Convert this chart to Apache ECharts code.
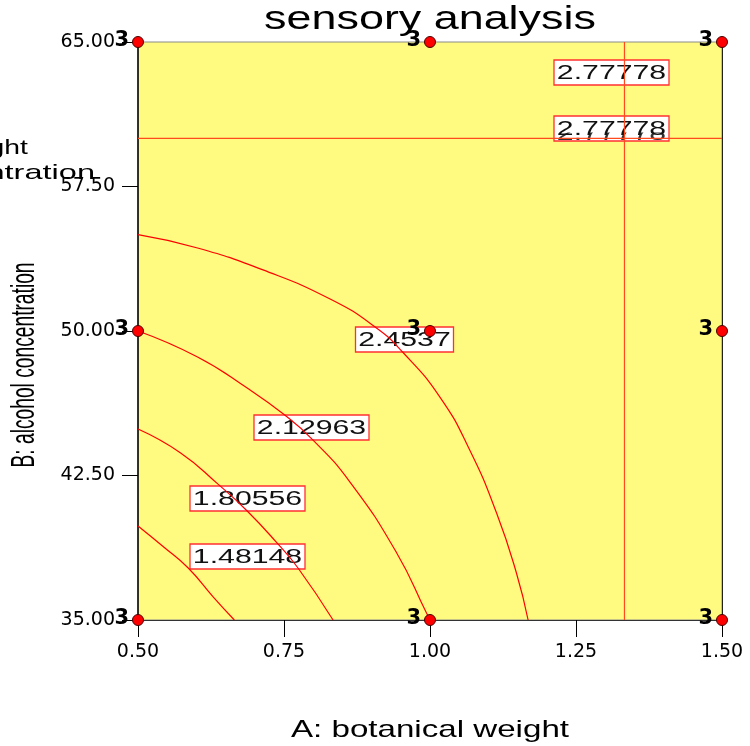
<!DOCTYPE html>
<html>
<head>
<meta charset="utf-8">
<script src="https://cdn.jsdelivr.net/npm/echarts@6/dist/echarts.min.js"></script>
<style>
  html, body { margin: 0; padding: 0; background: #ffffff; }
  #chart { width: 750px; height: 746px; }
</style>
</head>
<body>
<div id="chart"></div>
<script>
// Texts
const titleText = 'sensory analysis';
const xTitle = 'A: botanical weight';
const yTitle = 'B: alcohol concentration';
const sideLines = ['weight', 'concentration'];

// Axis ticks
const xTicks = [0.5, 0.75, 1.0, 1.25, 1.5];
const yTicks = [35, 42.5, 50, 57.5, 65];

// Design points (A, B) and replicate count at each point
const designA = [0.5, 1.0, 1.5, 0.5, 1.0, 1.5, 0.5, 1.0, 1.5];
const designB = [65, 65, 65, 50, 50, 50, 35, 35, 35];
const designCount = [3, 3, 3, 3, 3, 3, 3, 3, 3];

// Contour traces, [A, B]
const contour148148 = [[0.5, 39.88], [0.544, 38.79], [0.586, 37.70], [0.629, 36.19], [0.665, 35.0]];
const contour180556 = [[0.5, 44.91], [0.573, 43.67], [0.637, 42.05], [0.687, 40.66], [0.738, 39.00], [0.774, 37.70], [0.834, 35.0]];
const contour212963 = [[0.5, 50.0], [0.602, 48.65], [0.687, 47.04], [0.749, 45.69], [0.798, 44.39],
                       [0.863, 42.16], [0.943, 38.48], [0.994, 35.36], [1.0, 35.0]];
const contour24537 = [[0.5, 55.0], [0.602, 54.31], [0.714, 53.17], [0.829, 51.66], [0.906, 50.21], [0.953, 48.91],
                      [1.017, 46.57], [1.068, 43.82], [1.114, 40.55], [1.148, 37.44], [1.168, 35.0]];
const contour277778H = [[0.5, 60.0], [1.5, 60.0]];
const contour277778V = [[1.333, 35.0], [1.333, 65.0]];

// Contour labels: text and anchor (A, B)
const labelText = ['2.77778', '2.77778', '2.4537', '2.12963', '1.80556', '1.48148'];
const labelA = [1.31, 1.31, 0.956, 0.797, 0.686, 0.686];
const labelB = [63.44, 60.56, 49.56, 45.04, 41.31, 38.32];
const labelEcho = [0, 5, 0, 0, 0, 0];

const BG = '#FFFB80';
const CONTOUR_RED = '#FF0000';
const LIMIT_RED = '#FF4A1E';
const TICK_FONT = '"DejaVu Sans", sans-serif';

function contourSeries(name, pts, color, smooth) {
  return {
    name: name,
    type: 'line',
    data: pts,
    showSymbol: false,
    symbol: 'none',
    smooth: smooth,
    silent: true,
    z: 1,
    lineStyle: { color: color, width: 1.2 },
    animation: false
  };
}

const option = {
  animation: false,
  backgroundColor: '#ffffff',
  grid: {
    left: 138, right: 28, top: 42, bottom: 126,
    show: true,
    backgroundColor: BG,
    borderColor: '#8a8a8a',
    borderWidth: 1
  },
  xAxis: {
    type: 'value',
    min: 0.5, max: 1.5, interval: 0.25,
    axisLine: { show: true, onZero: false, lineStyle: { color: '#333', width: 1 } },
    axisTick: { show: true, length: 17, lineStyle: { color: '#000', width: 1 } },
    axisLabel: {
      margin: 23,
      color: '#000',
      fontFamily: TICK_FONT,
      fontSize: 19,
      formatter: v => v.toFixed(2)
    },
    splitLine: { show: false }
  },
  yAxis: [{
    type: 'value',
    min: 35, max: 65,
    axisLine: { show: true, onZero: false, lineStyle: { color: '#000', width: 1.5 } },
    axisTick: { show: true, length: 16, customValues: yTicks, lineStyle: { color: '#000', width: 1 } },
    axisLabel: {
      margin: 23,
      color: '#000',
      fontFamily: TICK_FONT,
      fontSize: 19,
      customValues: yTicks,
      formatter: v => v.toFixed(2)
    },
    splitLine: { show: false }
  }, {
    type: 'value',
    position: 'right',
    min: 35, max: 65,
    axisLine: { show: true, onZero: false, lineStyle: { color: '#222', width: 1 } },
    axisTick: { show: false },
    axisLabel: { show: false },
    splitLine: { show: false }
  }],
  series: [
    contourSeries('1.48148', contour148148, CONTOUR_RED, 0.5),
    contourSeries('1.80556', contour180556, CONTOUR_RED, 0.5),
    contourSeries('2.12963', contour212963, CONTOUR_RED, 0.5),
    contourSeries('2.4537', contour24537, CONTOUR_RED, 0.5),
    contourSeries('2.77778', contour277778H, LIMIT_RED, false),
    contourSeries('2.77778', contour277778V, LIMIT_RED, false),
    {
      name: 'design points',
      type: 'scatter',
      data: designA.map((a, i) => [a, designB[i], designCount[i]]),
      symbol: 'circle',
      symbolSize: 11,
      clip: false,
      z: 10,
      itemStyle: { color: '#FF0000', borderColor: '#4a0000', borderWidth: 1, opacity: 1 },
      label: {
        show: true,
        position: 'left',
        distance: 3,
        offset: [0, -1],
        formatter: p => String(p.value[2]),
        color: '#000',
        fontFamily: TICK_FONT,
        fontWeight: 'bold',
        fontSize: 21
      }
    }
  ]
};

const chart = echarts.init(document.getElementById('chart'), null, { renderer: 'canvas' });
chart.setOption(option);

// Contour value boxes and titles, stretched horizontally
const measureCtx = document.createElement('canvas').getContext('2d');
function textWidth(t, font) { measureCtx.font = font; return measureCtx.measureText(t).width; }

const LABEL_FONT = '19.5px "Liberation Sans", Arial, sans-serif';
const LABEL_SX = 1.55;
const graphics = [];

labelText.forEach((t, i) => {
  const p = chart.convertToPixel({ gridIndex: 0 }, [labelA[i], labelB[i]]);
  const w = Math.round(textWidth(t, LABEL_FONT) * LABEL_SX + 6);
  const h = 25;
  const children = [{
    type: 'rect',
    shape: { x: -w / 2, y: -h / 2, width: w, height: h },
    style: { fill: '#ffffff', stroke: '#FF3030', lineWidth: 1.3 }
  }];
  if (labelEcho[i]) {
    children.push({
      type: 'text', x: 0, y: 1 + labelEcho[i], scaleX: LABEL_SX,
      style: { text: t, font: LABEL_FONT, fill: '#333', align: 'center', verticalAlign: 'middle' }
    });
    children.push({
      type: 'rect',
      shape: { x: -w / 2 + 1, y: -h / 2 + 1, width: w - 2, height: h / 2 + 3 },
      style: { fill: '#ffffff' }
    });
  }
  children.push({
    type: 'text', x: 0, y: 1, scaleX: LABEL_SX,
    style: { text: t, font: LABEL_FONT, fill: '#111', align: 'center', verticalAlign: 'middle' }
  });
  graphics.push({ type: 'group', x: Math.round(p[0]) + 0.5, y: Math.round(p[1]) + 0.5, z: 5, children: children });
});

const gridCenterX = (138 + 722) / 2;

graphics.push({
  type: 'text', x: gridCenterX, y: 20, scaleX: 1.36, z: 6,
  style: { text: titleText, font: '33px "Liberation Sans", Arial, sans-serif', fill: '#000', align: 'center', verticalAlign: 'middle' }
});
graphics.push({
  type: 'text', x: gridCenterX, y: 730, scaleX: 1.38, z: 6,
  style: { text: xTitle, font: '24px "Liberation Sans", Arial, sans-serif', fill: '#000', align: 'center', verticalAlign: 'middle' }
});
graphics.push({
  type: 'text', x: 25, y: 365, rotation: Math.PI / 2, scaleX: 0.565, z: 6,
  style: { text: yTitle, font: '34px "Liberation Sans", Arial, sans-serif', fill: '#000', align: 'center', verticalAlign: 'middle' }
});
graphics.push({
  type: 'text', x: 28, y: 148, scaleX: 1.35, z: 6,
  style: { text: sideLines[0], font: '21px "Liberation Sans", Arial, sans-serif', fill: '#000', align: 'right', verticalAlign: 'middle' }
});
graphics.push({
  type: 'text', x: 95, y: 173, scaleX: 1.55, z: 6,
  style: { text: sideLines[1], font: '21px "Liberation Sans", Arial, sans-serif', fill: '#000', align: 'right', verticalAlign: 'middle' }
});

chart.setOption({ graphic: graphics });
</script>
</body>
</html>
